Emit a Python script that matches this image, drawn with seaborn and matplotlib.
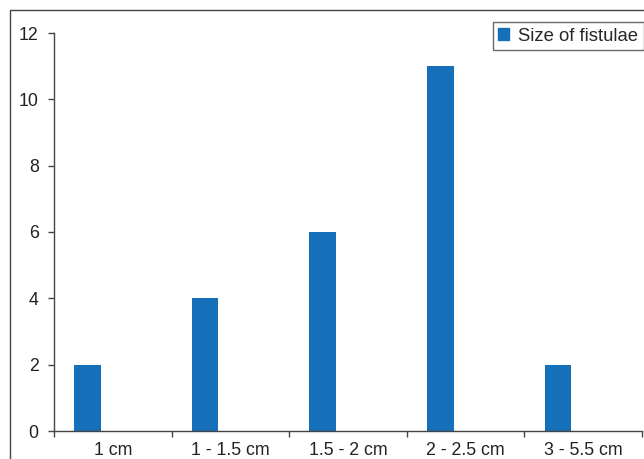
import matplotlib
matplotlib.use("Agg")
import matplotlib.pyplot as plt
import matplotlib.patches as mpatches
import pandas as pd
import seaborn as sns

# data
sizes = ["1 cm", "1 - 1.5 cm", "1.5 - 2 cm", "2 - 2.5 cm", "3 - 5.5 cm"]
counts = [2, 4, 6, 11, 2]
series_name = "Size of fistulae"

BAR_COLOR = "#1570b9"

sns.set_theme(style="ticks")
plt.rcParams["font.family"] = ["Liberation Sans", "DejaVu Sans"]

df = pd.DataFrame({"size": sizes, "count": counts})

fig = plt.figure(figsize=(6.44, 4.59), dpi=100)
ax = fig.add_axes([54 / 644, 28 / 459, 588 / 644, 398 / 459])

sns.barplot(data=df, x="size", y="count", color=BAR_COLOR, width=0.225,
            saturation=1, ax=ax)

# bars sit in the left part of each category slot (as in the original)
for p in ax.patches:
    p.set_x(p.get_x() - 0.215)
    p.set_edgecolor("none")

ax.set_xlim(-0.5, len(sizes) - 0.5)
ax.set_ylim(0, 12)
ax.set_yticks(range(0, 13, 2))
ax.set_xticks([i - 0.5 for i in range(len(sizes) + 1)], minor=False)
ax.set_xticklabels([])
ax.set_xticks(range(len(sizes)), minor=True)
ax.set_xticklabels(sizes, minor=True)
ax.tick_params(axis="x", which="minor", length=0, pad=8, labelsize=12.8, colors="#222222")
ax.tick_params(axis="x", which="major", length=4, width=1, color="#444444", direction="out")
ax.tick_params(axis="y", length=4, width=1, color="#444444", direction="out",
               labelsize=12.8, labelcolor="#222222", pad=7)
ax.set_xlabel("")
ax.set_ylabel("")

sns.despine(ax=ax)
for side in ["left", "bottom"]:
    ax.spines[side].set_color("#444444")
    ax.spines[side].set_linewidth(1)

handle = mpatches.Patch(color=BAR_COLOR, label=series_name)
leg = fig.legend(handles=[handle], loc="upper right", bbox_to_anchor=(1.0, 1 - 22 / 459),
                 frameon=True, fancybox=False, fontsize=13.3, handlelength=0.6,
                 handleheight=0.6, handletextpad=0.5, borderpad=0.3, borderaxespad=0)
leg.get_frame().set_edgecolor("#444444")
leg.get_frame().set_linewidth(1)

# outer frame around the chart
fig.patches.append(mpatches.Rectangle((10 / 644, -0.1), 1.2, 1 - 10 / 459 + 0.1,
                                      transform=fig.transFigure, fill=False,
                                      edgecolor="#444444", linewidth=1))

fig.savefig("out.png", dpi=100)
